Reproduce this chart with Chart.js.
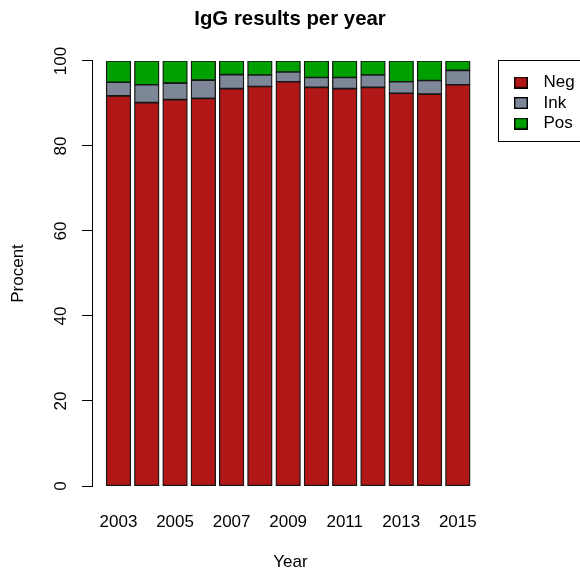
<!DOCTYPE html>
<html>
<head>
<meta charset="utf-8">
<script src="https://cdn.jsdelivr.net/npm/chart.js@4/dist/chart.umd.min.js"></script>
<style>
  html, body { margin: 0; padding: 0; background: #fff; }
  #c { display: block; }
</style>
</head>
<body>
<canvas id="c" width="580" height="570"></canvas>
<script>
// ---- data ----
const years = [2003, 2004, 2005, 2006, 2007, 2008, 2009, 2010, 2011, 2012, 2013, 2014, 2015];
const neg = [91.8, 90.2, 90.9, 91.2, 93.5, 94.0, 95.1, 93.8, 93.5, 93.8, 92.4, 92.2, 94.4];
const ink = [3.2, 4.2, 3.9, 4.3, 3.3, 2.7, 2.3, 2.3, 2.6, 2.9, 2.7, 3.2, 3.4];
const pos = [5.0, 5.6, 5.2, 4.5, 3.2, 3.3, 2.6, 3.9, 3.9, 3.3, 4.9, 4.6, 2.2];
const seriesNames = ['Neg', 'Ink', 'Pos'];
const xTickLabels = [2003, 2005, 2007, 2009, 2011, 2013, 2015];
const yTickValues = [0, 20, 40, 60, 80, 100];

const colors = ['#B21717', '#7D8797', '#00A000'];

Chart.defaults.font.family = "'Liberation Sans', Arial, sans-serif";
Chart.defaults.color = '#000';

function swatch(color) {
  const cv = document.createElement('canvas');
  cv.width = 14; cv.height = 12;
  const g = cv.getContext('2d');
  g.fillStyle = color; g.fillRect(0, 0, 14, 12);
  g.strokeStyle = '#000'; g.lineWidth = 1.4; g.strokeRect(0.7, 0.7, 12.6, 10.6);
  return cv;
}
const swatches = colors.map(swatch);

const legendFrame = {
  id: 'legendFrame',
  afterLayout(chart) {
    const lg = chart.legend;
    const w = lg.width;
    lg.left = 503.5; lg.right = lg.left + w;
    lg.top = 70.5; lg.bottom = lg.top + 75;
    lg.height = 75;
  },
  afterDraw(chart) {
    const ctx = chart.ctx;
    ctx.save();
    ctx.strokeStyle = '#000';
    ctx.lineWidth = 1;
    ctx.strokeRect(498.5, 60.5, 120, 81);
    ctx.restore();
  }
};

const mk = (label, data, color) => ({
  label, data, backgroundColor: color, borderColor: '#161616', borderWidth: 1.3,
  borderSkipped: false, inflateAmount: 0.5, categoryPercentage: 1, barPercentage: 0.86
});

new Chart(document.getElementById('c'), {
  type: 'bar',
  data: {
    labels: years,
    datasets: [
      mk(seriesNames[0], neg, colors[0]),
      mk(seriesNames[1], ink, colors[1]),
      mk(seriesNames[2], pos, colors[2])
    ]
  },
  options: {
    responsive: false,
    devicePixelRatio: 1,
    animation: false,
    layout: { padding: 0 },
    plugins: {
      title: {
        display: true,
        text: 'IgG results per year',
        color: '#000',
        font: { size: 20.4, weight: 'bold' },
        padding: { top: 6.8, bottom: 29.7 }
      },
      legend: {
        position: 'chartArea',
        align: 'start',
        labels: {
          usePointStyle: true,
          pointStyleWidth: 28,
          padding: 3.5,
          color: '#000',
          font: { size: 17 },
          generateLabels(chart) {
            const items = Chart.defaults.plugins.legend.labels.generateLabels(chart);
            items.forEach((it, i) => { it.pointStyle = swatches[i]; });
            return items;
          }
        }
      },
      tooltip: { enabled: false }
    },
    scales: {
      x: {
        type: 'linear',
        stacked: true,
        offset: false,
        min: years[0] - 0.9367,
        max: years[0] + 13.103,
        grid: { display: false },
        border: { display: false },
        afterBuildTicks(scale) { scale.ticks = xTickLabels.map(v => ({ value: v })); },
        afterFit(scale) { scale.height = 84; },
        ticks: {
          autoSkip: false, maxRotation: 0, minRotation: 0,
          font: { size: 17 }, color: '#000', padding: 18,
          callback: (v) => String(v)
        },
        title: {
          display: true, text: 'Year', color: '#000',
          font: { size: 17 }, padding: { top: 0, bottom: -3 }
        }
      },
      y: {
        type: 'linear',
        stacked: true,
        min: 0,
        max: 100,
        afterBuildTicks(scale) { scale.ticks = yTickValues.map(v => ({ value: v })); },
        afterFit(scale) { scale.width = 92; },
        grid: { display: true, drawOnChartArea: false, drawTicks: true, tickLength: 10, color: '#000', lineWidth: 1 },
        border: { display: true, color: '#000', width: 1 },
        ticks: {
          minRotation: 90, maxRotation: 90, crossAlign: 'center',
          font: { size: 17 }, color: '#000', padding: 6.3
        },
        title: {
          display: true, text: 'Procent', color: '#000',
          font: { size: 17 }, padding: { top: 8.6, bottom: 0 }
        }
      },
      rightSpace: {
        type: 'linear',
        position: 'right',
        display: true,
        grid: { display: false },
        border: { display: false },
        ticks: { display: false },
        afterFit(scale) { scale.width = 91; }
      }
    }
  },
  plugins: [legendFrame]
});
</script>
</body>
</html>
